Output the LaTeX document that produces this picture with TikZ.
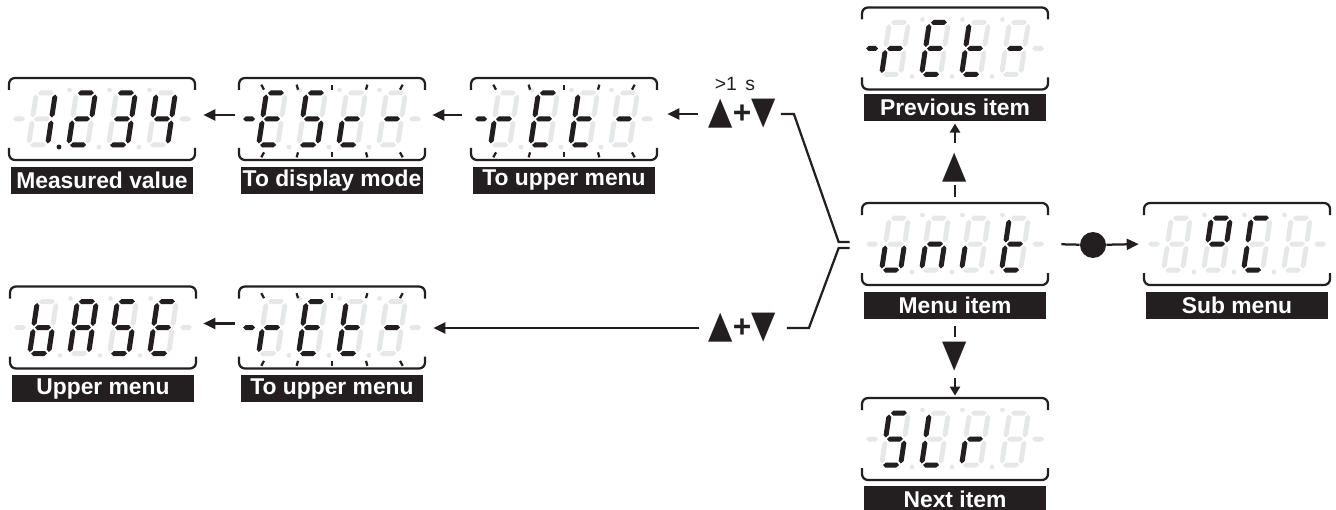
\documentclass[tikz,border=0pt]{standalone}
\usepackage{fontspec}
\setmainfont{Liberation Sans}
\newfontfamily\symfont{DejaVu Sans}
\usetikzlibrary{arrows.meta,positioning,calc}
\definecolor{ledink}{RGB}{35,31,32}
\definecolor{ledoff}{RGB}{230,231,232}

% one LED segment, pixel units (y runs down)
\newcommand{\hseg}[3]{(#1,#3) -- (#1+2.5,#3-2.5) -- (#2-2.5,#3-2.5) -- (#2,#3) -- (#2-2.5,#3+2.5) -- (#1+2.5,#3+2.5) -- cycle}
\newcommand{\vseg}[3]{(#1,#2) -- (#1+2.5,#2+2.5) -- (#1+2.5,#3-2.5) -- (#1,#3) -- (#1-2.5,#3-2.5) -- (#1-2.5,#2+2.5) -- cycle}
\newcommand{\segpa}{\hseg{-8}{8}{-26}}
\newcommand{\segpb}{\vseg{9.5}{-24.5}{-1.5}}
\newcommand{\segpc}{\vseg{9.5}{1.5}{24.5}}
\newcommand{\segpd}{\hseg{-8}{8}{26}}
\newcommand{\segpe}{\vseg{-9.5}{1.5}{24.5}}
\newcommand{\segpf}{\vseg{-9.5}{-24.5}{-1.5}}
\newcommand{\segpg}{\hseg{-8}{8}{0}}
\newcommand{\segpnone}{}

% digit at x offset #1, lit segments #2
\newcommand{\segdigit}[2]{%
  \begin{scope}[shift={(#1,0)}, xslant=0.15]
    \foreach \sg in {a,b,c,d,e,f,g} {\expandafter\let\expandafter\segcur\csname segp\sg\endcsname \fill[ledoff] \segcur;}
    \foreach \sg in {#2} {\expandafter\let\expandafter\segcur\csname segp\sg\endcsname \fill[ledink] \segcur;}
  \end{scope}}

% display frame on node #1, left dash colour #2, digits #3-#6
\newcommand{\segdisp}[6]{%
  \begin{scope}[shift={(#1)}]
    \draw[ledframe] (-93,-29) -- (-93,-41) -- (93,-41) -- (93,-29);
    \draw[ledframe] (-93,29) -- (-93,41) -- (93,41) -- (93,29);
    \fill[#2] \hseg{-89}{-77}{0};
    \fill[ledoff] \hseg{77}{89}{0};
    \foreach \dx in {-60,-20,20} {
      \fill[ledoff] (\dx+17,28) circle (2.4);
      \fill[ledoff] (\dx+27.5,-29) circle (2.4);
    }
    \segdigit{-60}{#3}
    \segdigit{-20}{#4}
    \segdigit{20}{#5}
    \segdigit{60}{#6}
  \end{scope}}

% blinking marks round node #1
\newcommand{\blink}[1]{%
  \foreach \dx in {-68,-34,0,34,68} {
    \draw[ledtick] ($(#1.north)+(\dx+\dx/25,7)$) -- ($(#1.north)+(\dx,12)$);
    \draw[ledtick] ($(#1.south)+(\dx,-8)$) -- ($(#1.south)+(\dx+\dx/25,-3)$);
  }}

\newcommand{\upkey}{{\symfont\fontsize{18}{18}\selectfont\scalebox{1}[1.2]{▲}}}
\newcommand{\dnkey}{{\symfont\fontsize{18}{18}\selectfont\scalebox{1}[1.2]{▼}}}
\newcommand{\pluskey}{{\fontsize{18}{18}\selectfont\bfseries+}}

\tikzset{
  disp/.style={minimum width=3.72cm, minimum height=1.64cm, inner sep=0pt},
  lbl/.style={fill=ledink, text=white, font=\fontsize{13}{13}\selectfont\bfseries, minimum width=3.66cm, minimum height=0.54cm, inner sep=0pt},
  ledframe/.style={line width=0.045cm, draw=ledink, rounded corners=0.12cm},
  ledtick/.style={line width=0.045cm, draw=ledink},
  wire/.style={line width=0.045cm, draw=ledink},
  arr/.style={wire, -{Triangle[length=0.24cm, width=0.22cm]}},
  arrs/.style={wire, -{Triangle[length=0.18cm, width=0.2cm]}},
  keys/.style={inner sep=0pt, text=ledink},
  setbtn/.style={circle, fill=ledink, minimum size=0.52cm, inner sep=0pt},
}

\begin{document}
\begin{tikzpicture}[x=0.02cm, y=-0.02cm]
  \useasboundingbox (0,0) rectangle (1336,510);

  % displays
  \node[disp] (meas) at (102,119) {};
  \node[disp] (esc) at (332,119) {};
  \node[disp] (retA) at (564,119) {};
  \node[disp] (prev) at (955,48.5) {};
  \node[disp] (menu) at (955,244) {};
  \node[disp] (sub) at (1237,244) {};
  \node[disp] (next) at (955,439) {};
  \node[disp] (base) at (103,327.5) {};
  \node[disp] (retB) at (332,327.5) {};

  \segdisp{meas}{ledoff}{b,c}{a,b,g,e,d}{a,b,g,c,d}{f,g,b,c}
  \fill[ledink] ($(meas)+(-43,28)$) circle (2.4);
  \segdisp{esc}{ledink}{a,f,g,e,d}{a,f,g,c,d}{g,e,d}{g}
  \segdisp{retA}{ledink}{e,g}{a,f,g,e,d}{f,e,d,g}{g}
  \segdisp{prev}{ledink}{e,g}{a,f,g,e,d}{f,e,d,g}{g}
  \segdisp{menu}{ledoff}{c,d,e}{c,e,g}{e}{d,e,f,g}
  \segdisp{sub}{ledoff}{none}{a,b,f,g}{a,f,e,d}{none}
  \segdisp{next}{ledoff}{a,f,g,c,d}{f,e,d}{e,g}{none}
  \segdisp{base}{ledoff}{f,e,d,c,g}{a,b,c,e,f,g}{a,f,g,c,d}{a,f,g,e,d}
  \segdisp{retB}{ledink}{e,g}{a,f,g,e,d}{f,e,d,g}{g}
  \blink{esc}
  \blink{retA}
  \blink{retB}

  % labels
  \node[lbl, below=0.12cm of meas] (measlbl) {Measured value};
  \node[lbl, below=0.12cm of esc] (esclbl) {To display mode};
  \node[lbl, below=0.12cm of retA] (retAlbl) {To upper menu};
  \node[lbl, below=0.08cm of prev] (prevlbl) {Previous item};
  \node[lbl, below=0.12cm of menu] (menulbl) {Menu item};
  \node[lbl, below=0.12cm of sub] (sublbl) {Sub menu};
  \node[lbl, below=0.1cm of next] (nextlbl) {Next item};
  \node[lbl, below=0.12cm of base] (baselbl) {Upper menu};
  \node[lbl, below=0.12cm of retB] (retBlbl) {To upper menu};

  % keys
  \node[keys] (keysA) at (742,114) {\upkey\pluskey\dnkey};
  \node[keys, font=\fontsize{11}{11}\selectfont] (hold) at (735,84) {>1~\,s};
  \node[keys] (keysB) at (742,328) {\upkey\pluskey\dnkey};
  \node[keys] (upbtn) at (955,167.5) {\upkey};
  \node[keys] (dnbtn) at (955,357) {\dnkey};
  \node[setbtn] (setkey) at (1093,245) {};
  \coordinate (jointA) at ($(menu.west)+(-23,-2)$);
  \coordinate (jointB) at ($(menu.west)+(-23,4)$);

  % connectors
  \draw[arr, shorten <=0.08cm, shorten >=0.16cm] ([yshift=0.08cm]esc.west) -- ([yshift=0.08cm]meas.east);
  \draw[arr, shorten <=0.18cm, shorten >=0.14cm] ([yshift=0.08cm]retA.west) -- ([yshift=0.08cm]esc.east);
  \draw[arr, shorten <=0.2cm, shorten >=0.2cm] (keysA.west) -- (keysA.west -| retA.east);
  \draw[arr, shorten <=0.18cm, shorten >=0.16cm] (keysB.west) -- (keysB.west -| retB.east);
  \draw[arr, shorten <=0.08cm, shorten >=0.14cm] ([yshift=0.08cm]retB.west) -- ([yshift=0.08cm]base.east);
  \draw[wire] ([xshift=0.1cm]keysA.east) -- ++(13,0) -- (jointA) -- ++(11,0);
  \draw[wire] ([xshift=0.22cm]keysB.east) -- ++(22,0) -- (jointB) -- ++(11,0);
  \draw[wire, shorten <=0.12cm, shorten >=0.06cm] (menu.north) -- (upbtn.south);
  \draw[arrs, shorten <=0.2cm, shorten >=0.04cm] (upbtn.north) -- (prevlbl.south);
  \draw[wire, shorten <=0.14cm, shorten >=0.1cm] (menulbl.south) -- (dnbtn.north);
  \draw[arrs, shorten <=0.12cm, shorten >=0.04cm] (dnbtn.south) -- (next.north);
  \draw[wire, shorten <=0.26cm] (menu.east) -- (setkey);
  \draw[arr, shorten >=0.1cm] (setkey) -- (sub.west);
\end{tikzpicture}
\end{document}
